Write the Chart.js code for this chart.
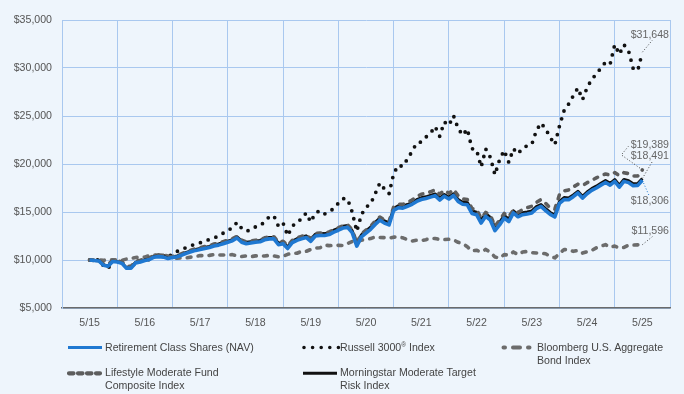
<!DOCTYPE html>
<html><head><meta charset="utf-8">
<script src="https://cdn.jsdelivr.net/npm/chart.js@4.4.1/dist/chart.umd.min.js"></script>
<style>
html,body{margin:0;padding:0;background:#eef5fc;}
#wrap{position:relative;width:684px;height:394px;overflow:hidden;font-family:"Liberation Sans",Arial,sans-serif;background:#eef5fc;}
#c{position:absolute;left:0;top:0;}
.lg{position:absolute;font-size:10.6px;color:#444;line-height:13px;white-space:nowrap;}
.lg sup{font-size:6.5px;vertical-align:4px;line-height:0;}
svg.sym{position:absolute;left:0;top:0;}
</style></head><body>
<div id="wrap">
<canvas id="c" width="684" height="394"></canvas>
<svg class="sym" width="684" height="394" id="legsym"></svg>
<div class="lg" style="left:105px;top:340.5px">Retirement Class Shares (NAV)</div>
<div class="lg" style="left:340px;top:340.5px">Russell 3000<sup>®</sup> Index</div>
<div class="lg" style="left:537px;top:340.5px">Bloomberg U.S. Aggregate<br>Bond Index</div>
<div class="lg" style="left:105px;top:366px">Lifestyle Moderate Fund<br>Composite Index</div>
<div class="lg" style="left:340px;top:366px">Morningstar Moderate Target<br>Risk Index</div>
</div>
<script>
// x tick labels (one per year, May)
const tickLabels = ['5/15','5/16','5/17','5/18','5/19','5/20','5/21','5/22','5/23','5/24','5/25'];

// Monthly growth of $10,000, May 2015 .. May 2025
const retirement = [
10000, 9950, 9900, 9450, 9350, 9850, 9800, 9650,
9150, 9150, 9700, 9800, 9950, 10050, 10300, 10350, 10300, 10150, 10250, 10350,
10500, 10700, 10850, 11000, 11100, 11200, 11300, 11450, 11550, 11700, 11850, 12000,
12290, 11850, 11700, 11770, 11850, 11900, 12100, 12200, 12200, 11600, 11700, 11200,
11800, 12050, 12200, 12350, 11950, 12500, 12550, 12550, 12650, 12900, 13100, 13330,
13400, 12850, 11450, 12400, 12800, 13200, 13700, 14150, 13850, 13650, 15150, 15450,
15400, 15600, 15800, 16100, 16300, 16400, 16550, 16700, 16250, 16650, 16350, 16720,
16100, 15800, 15750, 14850, 14720, 13850, 14550, 14150, 13050, 13650, 14370, 14000,
14900, 14500, 14720, 14800, 14900, 15350, 15580, 15150, 14750, 14480, 15900, 16300,
16280, 16600, 16980, 16450, 16900, 17250, 17500, 17800, 18080, 17800, 18190, 17600,
18190, 18060, 17740, 17770, 18306];

const russell3000 = [
10000, 9900, 10050, 9400, 9100, 9900, 9950, 9760,
9200, 9150, 9800, 9850, 10000, 10050, 10450, 10450, 10450, 10250, 10700, 10900,
11100, 11300, 11500, 11650, 11800, 11950, 12150, 12300, 12500, 12800, 13100, 13350,
13920, 13300, 13000, 13150, 13450, 13550, 14000, 14500, 14610, 13500, 13850, 12530,
13500, 14000, 14250, 14900, 13960, 14900, 15130, 14790, 15050, 15350, 15920, 16390,
16350, 15000, 12980, 14720, 15500, 15850, 16900, 18020, 17400, 16900, 18990, 19860,
19750, 20520, 21310, 22190, 22300, 22800, 23200, 23920, 22880, 24380, 24020, 25030,
23700, 23000, 23650, 21600, 21490, 19690, 21560, 20690, 18880, 20450, 21420, 20170,
21590, 21070, 21660, 21900, 22050, 23500, 24270, 23650, 22770, 22010, 23950, 25550,
26250, 27110, 27920, 26700, 27950, 28820, 29370, 30000, 30600, 30400, 32430, 31430,
32430, 31800, 29950, 29740, 31648];

const bloombergAgg = [
10000, 9950, 10000, 9970, 10030, 10030, 10000, 9970,
10100, 10180, 10260, 10300, 10300, 10480, 10520, 10510, 10500, 10420, 10170, 10200,
10220, 10230, 10300, 10380, 10460, 10440, 10480, 10570, 10520, 10520, 10510, 10560,
10430, 10360, 10430, 10350, 10430, 10420, 10420, 10480, 10420, 10340, 10400, 10590,
10700, 10700, 10900, 10900, 11100, 11250, 11270, 11560, 11500, 11530, 11520, 11510,
11720, 11930, 11860, 12070, 12150, 12230, 12410, 12350, 12330, 12270, 12380, 12400,
12310, 12120, 11970, 12060, 12020, 12120, 12260, 12240, 12130, 12130, 12160, 12100,
11840, 11710, 11380, 10950, 11010, 10840, 11100, 10790, 10320, 10190, 10560, 10500,
10840, 10560, 10830, 10890, 10770, 10730, 10720, 10650, 10380, 10220, 10680, 11090,
11060, 10900, 11000, 10720, 10860, 11000, 11270, 11440, 11600, 11320, 11450, 11250,
11310, 11550, 11550, 11580, 11596];

const lifestyleComposite = [
10000, 9980, 9960, 9600, 9530, 9950, 9920, 9800,
9350, 9350, 9880, 9980, 10120, 10230, 10480, 10530, 10480, 10300, 10380, 10490,
10650, 10860, 11020, 11180, 11290, 11400, 11500, 11660, 11760, 11910, 12060, 12210,
12480, 12050, 11900, 11970, 12060, 12110, 12310, 12420, 12420, 11850, 11950, 11480,
12050, 12300, 12460, 12600, 12230, 12760, 12800, 12830, 12920, 13160, 13360, 13580,
13680, 13150, 11750, 12700, 13120, 13520, 14030, 14480, 14180, 14000, 15500, 15820,
15800, 16000, 16250, 16600, 16850, 16950, 17100, 17300, 16850, 17250, 16950, 17350,
16700, 16350, 16300, 15350, 15250, 14350, 14950, 14650, 13500, 14150, 14850, 14500,
15200, 14950, 15250, 15450, 15600, 16000, 16300, 15900, 15400, 15300, 16800, 17200,
17300, 17600, 17900, 17750, 18050, 18300, 18550, 18800, 18950, 18850, 19100, 18800,
19100, 19000, 18750, 18750, 19389];

const morningstarModerate = [
10000, 9960, 9920, 9480, 9380, 9880, 9830, 9690,
9200, 9210, 9760, 9860, 10010, 10110, 10370, 10420, 10380, 10220, 10320, 10420,
10580, 10790, 10940, 11100, 11200, 11310, 11410, 11570, 11670, 11820, 11970, 12120,
12420, 11980, 11840, 11910, 11990, 12040, 12250, 12350, 12350, 11750, 11860, 11350,
11960, 12210, 12370, 12520, 12130, 12680, 12740, 12750, 12850, 13100, 13300, 13530,
13600, 13050, 11700, 12620, 13020, 13420, 13920, 14370, 14070, 13870, 15350, 15650,
15600, 15780, 15980, 16280, 16480, 16580, 16730, 16880, 16430, 16830, 16530, 16900,
16300, 16020, 15980, 15100, 14980, 14130, 14820, 14430, 13350, 13930, 14630, 14260,
15120, 14720, 14930, 15010, 15120, 15550, 15780, 15350, 14950, 14680, 16100, 16500,
16450, 16780, 17150, 16630, 17080, 17430, 17690, 17990, 18270, 17990, 18380, 17790,
18380, 18250, 17930, 17960, 18491];

const yTicks = [5000, 10000, 15000, 20000, 25000, 30000, 35000];

const FONT = '"Liberation Sans", Arial, sans-serif';
const GRID = '#a9c8ef';
const BLUE = '#1f78d1';
const pts = arr => arr.map((v, i) => ({x: i, y: v}));
const money = v => '$' + v.toLocaleString('en-US');

const annotate = {
  id: 'annotate',
  afterDatasetsDraw(chart) {
    const ctx = chart.ctx;
    const endPt = i => { const d = chart.getDatasetMeta(i).data; const p = d[d.length - 1]; return {x: p.x, y: p.y}; };
    const last = a => a[a.length - 1];
    const tx = chart.chartArea.right - 1;
    ctx.save();
    ctx.font = '10.6px ' + FONT;
    ctx.fillStyle = '#666';
    ctx.textAlign = 'right';
    ctx.textBaseline = 'middle';
    ctx.lineWidth = 1;
    ctx.setLineDash([1, 2]);
    const path = (color, p0, ...rest) => {
      ctx.strokeStyle = color; ctx.beginPath(); ctx.moveTo(p0.x, p0.y);
      rest.forEach(p => ctx.lineTo(p.x, p.y)); ctx.stroke();
    };
    // 0 retirement, 1 lifestyle, 2 morningstar, 3 bloomberg, 4 russell
    const r = endPt(0), l = endPt(1), m = endPt(2), b = endPt(3), ru = endPt(4);
    path('#444', ru, {x: ru.x + 10, y: ru.y - 12});
    ctx.fillText(money(last(russell3000)), tx, ru.y - 17);
    path('#444', l, {x: l.x - 21, y: l.y - 15}, {x: l.x - 14, y: l.y - 23.5});
    ctx.fillText(money(last(lifestyleComposite)), tx, l.y - 24.5);
    path('#444', m, {x: m.x + 10, y: m.y - 17});
    ctx.fillText(money(last(morningstarModerate)), tx, m.y - 22);
    path(BLUE, r, {x: r.x + 7, y: r.y + 16});
    ctx.fillText(money(last(retirement)), tx, r.y + 20.5);
    path('#444', b, {x: b.x + 10, y: b.y - 8});
    ctx.fillText(money(last(bloombergAgg)), tx, b.y - 14);
    ctx.restore();
  }
};

new Chart(document.getElementById('c'), {
  type: 'line',
  data: {
    datasets: [
      {label: 'Retirement Class Shares (NAV)', data: pts(retirement), borderColor: BLUE, borderWidth: 3.6, order: 0},
      {label: 'Lifestyle Moderate Fund Composite Index', data: pts(lifestyleComposite), borderColor: '#5d5d5d', borderWidth: 3.6, borderDash: [3.8, 7.2], borderCapStyle: 'round', order: 1},
      {label: 'Morningstar Moderate Target Risk Index', data: pts(morningstarModerate), borderColor: '#111111', borderWidth: 3, order: 2},
      {label: 'Bloomberg U.S. Aggregate Bond Index', data: pts(bloombergAgg), borderColor: '#6c6c6c', borderWidth: 3.6, borderDash: [3.8, 7.2], borderCapStyle: 'round', order: 3},
      {label: 'Russell 3000® Index', data: pts(russell3000), borderColor: '#111111', borderWidth: 3.8, borderDash: [0, 8.2], borderCapStyle: 'round', order: 4}
    ]
  },
  options: {
    responsive: false,
    animation: false,
    devicePixelRatio: 1,
    events: [],
    layout: {padding: {left: 0, right: 14, top: 20, bottom: 56}},
    elements: {point: {radius: 0}, line: {tension: 0, borderJoinStyle: 'round'}},
    plugins: {legend: {display: false}, tooltip: {enabled: false}},
    scales: {
      x: {
        type: 'linear', min: -6, max: 126,
        afterBuildTicks: s => { const t = []; for (let v = -6; v <= 126; v += 6) t.push({value: v}); s.ticks = t; },
        afterFit: s => { s.height = 30; },
        ticks: {autoSkip: false, maxRotation: 0, padding: 9, color: '#555', font: {size: 10.6, family: FONT},
          callback: v => (v % 12 === 0 && v >= 0) ? tickLabels[v / 12] : ''},
        grid: {color: c => (c.tick && c.tick.value % 12 !== 0) ? GRID : 'rgba(0,0,0,0)', drawTicks: false, lineWidth: 1},
        border: {color: '#6b6b6b', width: 1.5}
      },
      y: {
        min: 5000, max: 35000,
        afterBuildTicks: s => { s.ticks = yTicks.map(v => ({value: v})); },
        afterFit: s => { s.width = 62; },
        ticks: {padding: 10, color: '#555', font: {size: 10.6, family: FONT}, callback: v => money(v)},
        grid: {color: GRID, drawTicks: false, lineWidth: 1},
        border: {color: GRID, width: 1}
      }
    }
  },
  plugins: [annotate]
});

// legend symbols
const svg = document.getElementById('legsym');
const NS = 'http://www.w3.org/2000/svg';
function seg(x1, x2, y, color, w, dash) {
  const l = document.createElementNS(NS, 'line');
  l.setAttribute('x1', x1); l.setAttribute('x2', x2); l.setAttribute('y1', y); l.setAttribute('y2', y);
  l.setAttribute('stroke', color); l.setAttribute('stroke-width', w);
  if (dash) { l.setAttribute('stroke-dasharray', dash); l.setAttribute('stroke-linecap', 'round'); }
  svg.appendChild(l);
}
seg(68, 102, 347.5, BLUE, 3);
seg(304, 339, 347.5, '#111', 3.6, '0 8.6');
seg(503.5, 532, 347.5, '#6c6c6c', 4, '1.5 8 7 8');
seg(69, 100, 373.3, '#5d5d5d', 4.2, '4.5 4.5');
seg(303, 337, 373.3, '#111', 3);
</script>
</body></html>
